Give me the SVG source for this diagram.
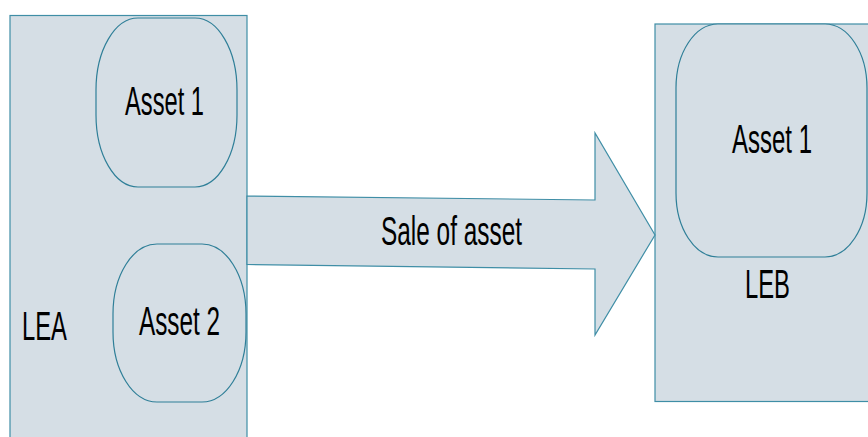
<svg xmlns="http://www.w3.org/2000/svg" width="868" height="437" viewBox="0 0 868 437">
<style>
.box{fill:#d5dee5;stroke:#3f8ea6;stroke-width:1.2}
.asset{fill:#d5dee5;stroke:#2f7f98;stroke-width:1.2}
.lbl{font-family:"Liberation Sans",Arial,sans-serif;font-size:40px;fill:#000}
</style>
<rect width="868" height="437" fill="#ffffff"/>
<g id="LEA">
<rect class="box" x="10" y="15.5" width="237" height="440"/>
<text class="lbl" x="22" y="340" textLength="45" lengthAdjust="spacingAndGlyphs">LEA</text>
</g>
<g id="LEA-asset1">
<rect class="asset" x="96" y="18" width="141" height="169" rx="42" ry="72"/>
<text class="lbl" x="125" y="115" textLength="79" lengthAdjust="spacingAndGlyphs">Asset 1</text>
</g>
<g id="LEA-asset2">
<rect class="asset" x="113" y="244" width="133" height="158" rx="44" ry="70"/>
<text class="lbl" x="139" y="335" textLength="81" lengthAdjust="spacingAndGlyphs">Asset 2</text>
</g>
<g id="LEB">
<rect class="box" x="655" y="24" width="220" height="377.5"/>
<text class="lbl" x="745" y="298" textLength="45" lengthAdjust="spacingAndGlyphs">LEB</text>
</g>
<g id="LEB-asset1">
<rect class="asset" x="676" y="24" width="191" height="233" rx="42" ry="64"/>
<text class="lbl" x="732" y="153" textLength="80" lengthAdjust="spacingAndGlyphs">Asset 1</text>
</g>
<g id="connectors">
<polygon class="box" points="247,196 595,200 595,133 655,235 595,335 595,269 247,264.5"/>
<text class="lbl" x="381" y="245" textLength="141" lengthAdjust="spacingAndGlyphs">Sale of asset</text>
</g>
</svg>
